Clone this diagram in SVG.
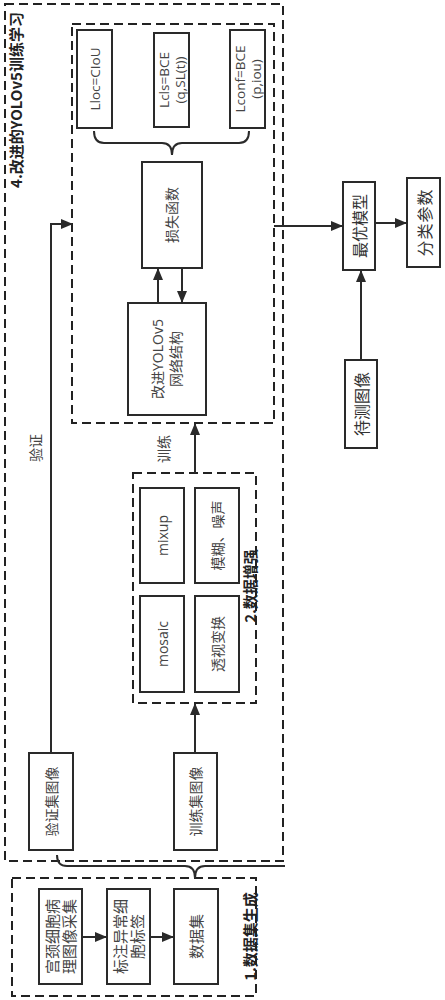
<svg xmlns="http://www.w3.org/2000/svg" width="445" height="1000" viewBox="0 0 445 1000">
<style>
.dash{fill:none;stroke:#222;stroke-width:2;stroke-dasharray:9 5}
.box{fill:#fff;stroke:#2a2a2a;stroke-width:2}
.t{font-family:"Open Sans","Noto Sans CJK SC",sans-serif;font-size:14px;fill:#444;text-anchor:middle;dominant-baseline:central}
.s{font-family:"Noto Sans CJK SC",serif;font-size:16px;fill:#333;text-anchor:middle;dominant-baseline:central}
.title{font-family:"Noto Sans CJK SC",sans-serif;font-size:15px;font-weight:bold;fill:#222;text-anchor:middle;dominant-baseline:central}
.ln{fill:none;stroke:#2a2a2a;stroke-width:2}
</style>
<defs>
<marker id="ah" markerUnits="userSpaceOnUse" markerWidth="12" markerHeight="10" refX="11" refY="5" orient="auto">
<path d="M0,0 L12,5 L0,10 Z" fill="#2a2a2a"/>
</marker>
</defs>
<rect width="445" height="1000" fill="#fff"/>

<g id="group4">
<rect class="dash" x="5" y="4" width="278" height="857"/>
<text class="title" transform="translate(15,100) rotate(-90)">4.改进的YOLOv5训练学习</text>
</g>
<g id="train-box">
<rect class="dash" x="72" y="24" width="202" height="399"/>
</g>
<g id="lloc">
<rect class="box" x="77" y="30" width="35" height="98"/>
<text class="t" transform="translate(94.5,79) rotate(-90)" style="font-size:13.5px">Lloc=CIoU</text>
</g>
<g id="lcls">
<rect class="box" x="154" y="33" width="35" height="94"/>
<text class="t" transform="translate(171.5,80) rotate(-90)" style="font-size:13.5px"><tspan x="0" y="-8">Lcls=BCE</tspan><tspan x="0" y="8">(q,SL(t))</tspan></text>
</g>
<g id="lconf">
<rect class="box" x="230" y="30" width="35" height="98"/>
<text class="t" transform="translate(247.5,79) rotate(-90)" style="font-size:13.5px"><tspan x="0" y="-8">Lconf=BCE</tspan><tspan x="0" y="8">(p,iou)</tspan></text>
</g>
<g id="loss">
<rect class="box" x="142" y="162" width="60" height="106"/>
<text class="t" transform="translate(171,215) rotate(-90)">损失函数</text>
</g>
<g id="yolo">
<rect class="box" x="128" y="303" width="78" height="112"/>
<text class="t" transform="translate(166,359) rotate(-90)"><tspan x="0" y="-9">改进YOLOv5</tspan><tspan x="0" y="9">网络结构</tspan></text>
</g>

<g id="group2">
<rect class="dash" x="133" y="473" width="123" height="230"/>
<text class="title" transform="translate(249,586) rotate(-90)">2.数据增强</text>
</g>
<g id="mixup">
<rect class="box" x="140" y="488" width="44" height="95"/>
<text class="t" transform="translate(162,535.5) rotate(-90)">mixup</text>
</g>
<g id="blur">
<rect class="box" x="195" y="488" width="44" height="95"/>
<text class="t" transform="translate(217,535.5) rotate(-90)">模糊、噪声</text>
</g>
<g id="mosaic">
<rect class="box" x="140" y="596" width="44" height="96"/>
<text class="t" transform="translate(162,644) rotate(-90)">mosaic</text>
</g>
<g id="persp">
<rect class="box" x="195" y="596" width="44" height="96"/>
<text class="t" transform="translate(217,644) rotate(-90)">透视变换</text>
</g>

<g id="valset">
<rect class="box" x="29" y="753" width="44" height="97"/>
<text class="t" transform="translate(51,801.5) rotate(-90)">验证集图像</text>
</g>
<g id="trainset">
<rect class="box" x="174" y="753" width="43" height="97"/>
<text class="t" transform="translate(195.5,801.5) rotate(-90)">训练集图像</text>
</g>

<g id="group1">
<rect class="dash" x="12" y="878" width="244" height="118"/>
<text class="title" transform="translate(249,936.5) rotate(-90)">1.数据集生成</text>
</g>
<g id="collect">
<rect class="box" x="39" y="889" width="43" height="95"/>
<text class="t" transform="translate(60.5,936.5) rotate(-90)" style="font-size:15px"><tspan x="0" y="-8.5">宫颈细胞病</tspan><tspan x="0" y="8.5">理图像采集</tspan></text>
</g>
<g id="label">
<rect class="box" x="107" y="889" width="43" height="95"/>
<text class="t" transform="translate(128.5,936.5) rotate(-90)" style="font-size:15px"><tspan x="0" y="-8.5">标注异常细</tspan><tspan x="0" y="8.5">胞标签</tspan></text>
</g>
<g id="dataset">
<rect class="box" x="174" y="889" width="44" height="95"/>
<text class="t" transform="translate(196,936.5) rotate(-90)" style="font-size:15px">数据集</text>
</g>

<g id="best">
<rect class="box" x="343" y="182" width="32" height="88"/>
<text class="s" transform="translate(359,226) rotate(-90)">最优模型</text>
</g>
<g id="params">
<rect class="box" x="407" y="178" width="33" height="89"/>
<text class="s" transform="translate(423.5,222.5) rotate(-90)" style="letter-spacing:1px">分类参数</text>
</g>
<g id="testimg">
<rect class="box" x="345" y="360" width="32" height="88"/>
<text class="s" transform="translate(361,404) rotate(-90)">待测图像</text>
</g>

<g id="connectors">
<path class="ln" d="M94,131 Q94,143 104,143 L162,143 Q172,143 172,155 Q172,143 182,143 L239,143 Q249,143 249,131"/>
<line class="ln" x1="158" y1="303" x2="158" y2="269" marker-end="url(#ah)"/>
<line class="ln" x1="182" y1="268" x2="182" y2="302" marker-end="url(#ah)"/>
<line class="ln" x1="195" y1="473" x2="195" y2="424" marker-end="url(#ah)"/>
<line class="ln" x1="195" y1="753" x2="195" y2="704" marker-end="url(#ah)"/>
<path class="ln" d="M51,753 L51,224 L72,224" marker-end="url(#ah)"/>
<line class="ln" x1="274" y1="226" x2="342" y2="226" marker-end="url(#ah)"/>
<line class="ln" x1="375" y1="223" x2="406" y2="223" marker-end="url(#ah)"/>
<line class="ln" x1="361" y1="360" x2="361" y2="271" marker-end="url(#ah)"/>
<line class="ln" x1="82" y1="937" x2="106" y2="937" marker-end="url(#ah)"/>
<line class="ln" x1="150" y1="937" x2="173" y2="937" marker-end="url(#ah)"/>
<path class="ln" d="M57,855 Q57,866 67,866 L185,866 Q195,866 195,878 Q195,866 205,866 L285,866"/>
<text class="t" transform="translate(35,448) rotate(-90)">验证</text>
<text class="t" transform="translate(163,449) rotate(-90)">训练</text>
</g>
</svg>
